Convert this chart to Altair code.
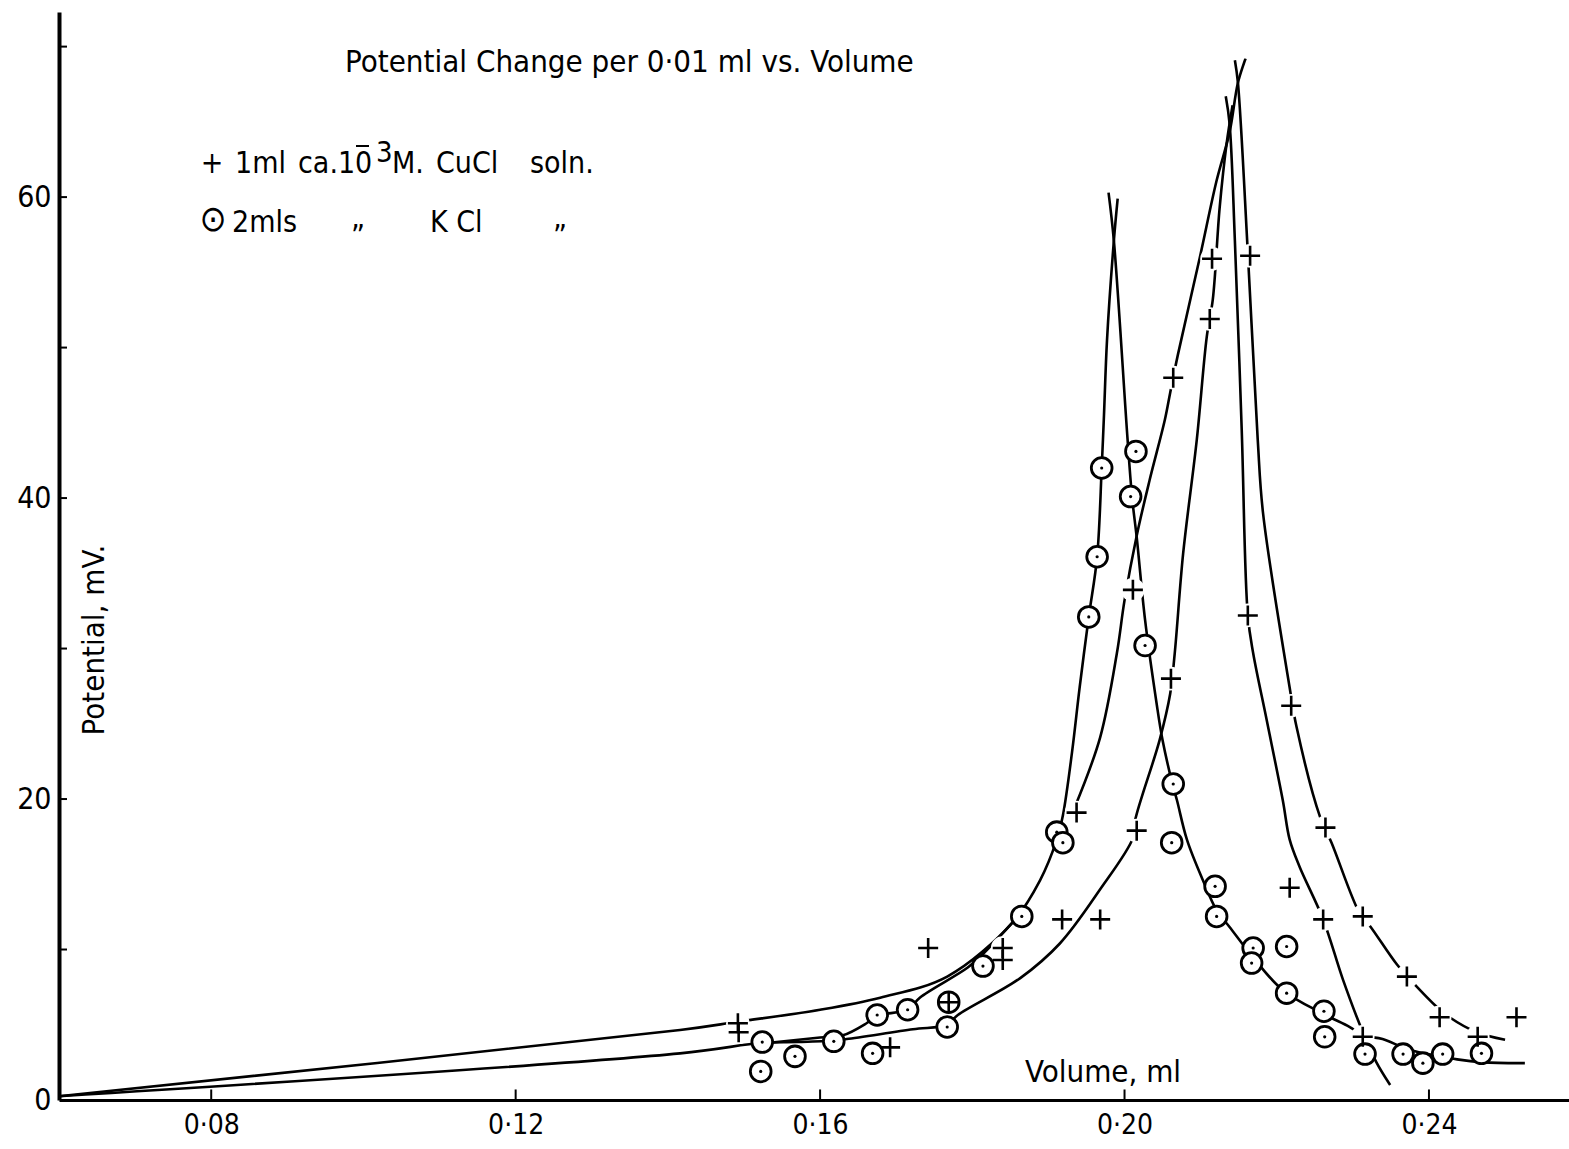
import altair as alt
import pandas as pd

FONT = "Liberation Sans Narrow, DejaVu Sans Condensed, Roboto Condensed, Liberation Sans, DejaVu Sans, sans-serif"

# ---------------- axes ----------------
X_DOMAIN = [0.06, 0.2584]
Y_DOMAIN = [0.0, 72.3]
x_label_values = [0.08, 0.12, 0.16, 0.20, 0.24]
y_label_values = [0, 20, 40, 60]
x_tick_values = [0.08, 0.12, 0.16, 0.20, 0.24]
y_tick_values = [10, 20, 30, 40, 50, 60, 70]

# ---------------- data points ----------------
# + : 1 ml ca. 10^-3 M CuCl soln.
plus_x = [0.1492, 0.1493, 0.1692, 0.1742, 0.1769, 0.1840, 0.1840, 0.1918, 0.1968, 0.1937,
          0.2016, 0.2011, 0.2061, 0.2064, 0.2112, 0.2115, 0.2165, 0.2162, 0.2219, 0.2217,
          0.2264, 0.2261, 0.2313, 0.2313, 0.2371, 0.2414, 0.2464, 0.2515]
plus_y = [5.1, 4.5, 3.5, 10.1, 6.5, 10.1, 9.3, 12.0, 12.0, 19.1,
          17.9, 33.9, 28.0, 48.0, 51.9, 55.9, 56.1, 32.2, 26.2, 14.1,
          18.1, 12.0, 12.2, 4.2, 8.2, 5.5, 4.2, 5.5]

# (.) : 2 mls KCl
circle_x = [0.1524, 0.1522, 0.1567, 0.1618, 0.1669, 0.1675, 0.1715, 0.1767, 0.1769, 0.1814,
            0.1865, 0.1911, 0.1919, 0.1953, 0.1964, 0.1970, 0.2008, 0.2015, 0.2027, 0.2064,
            0.2062, 0.2119, 0.2121, 0.2169, 0.2167, 0.2213, 0.2213, 0.2262, 0.2263, 0.2316,
            0.2366, 0.2392, 0.2418, 0.2469]
circle_y = [3.85, 1.9, 2.9, 3.9, 3.1, 5.65, 6.0, 4.85, 6.5, 8.9,
            12.2, 17.8, 17.1, 32.1, 36.1, 42.0, 40.1, 43.1, 30.2, 21.0,
            17.1, 14.2, 12.2, 10.1, 9.1, 10.2, 7.1, 5.9, 4.2, 3.05,
            3.05, 2.45, 3.05, 3.1]

# ---------------- hand-drawn curves ----------------
kcl_rise_x = [0.0600, 0.1416, 0.1492, 0.1600, 0.1679, 0.1767, 0.1853, 0.1889, 0.1911, 0.1919,
              0.1931, 0.1941, 0.1953, 0.1964, 0.1970, 0.1973, 0.1977, 0.1986, 0.1991]
kcl_rise_y = [0.25, 4.65, 5.2, 6.0, 6.8, 8.2, 11.8, 14.6, 17.3, 18.9,
              23.1, 27.4, 32.1, 36.1, 42.0, 45.5, 50.5, 57.1, 59.9]

kcl_fall_x = [0.1979, 0.1986, 0.2004, 0.2010, 0.2016, 0.2027, 0.2042, 0.2050, 0.2063, 0.2069,
              0.2082, 0.2103, 0.2121, 0.2138, 0.2167, 0.2208, 0.2262, 0.2296, 0.2313, 0.2339,
              0.2366, 0.2392, 0.2418, 0.2437, 0.2471, 0.2526]
kcl_fall_y = [60.3, 57.1, 43.9, 40.0, 37.4, 31.9, 26.4, 23.9, 21.0, 19.9,
              17.3, 14.6, 12.6, 11.5, 9.6, 7.3, 5.7, 4.85, 4.3, 4.05,
              3.5, 3.1, 2.9, 2.7, 2.5, 2.45]

kcl_mid_x = [0.1524, 0.1600, 0.1630, 0.1661, 0.1675, 0.1715, 0.1731, 0.1794, 0.1814, 0.1853]
kcl_mid_y = [3.75, 4.15, 4.3, 5.1, 5.6, 6.0, 6.8, 8.8, 9.7, 11.8]

cucl_low_x = [0.0600, 0.1416, 0.1524, 0.1570, 0.1618, 0.1635, 0.1722, 0.1767, 0.1781, 0.1863,
              0.1915, 0.1968, 0.2011, 0.2014, 0.2046, 0.2060, 0.2066, 0.2077, 0.2095, 0.2108,
              0.2116, 0.2125, 0.2134, 0.2142]
cucl_low_y = [0.25, 3.1, 3.8, 3.85, 3.95, 4.05, 4.7, 5.0, 5.65, 8.1,
              10.4, 14.0, 17.4, 18.6, 23.9, 27.0, 29.7, 36.3, 43.9, 50.7,
              53.2, 59.3, 63.5, 66.1]

cucl_up_x = [0.1935, 0.1968, 0.1990, 0.2000, 0.2016, 0.2033, 0.2053, 0.2060, 0.2070, 0.2099,
             0.2121, 0.2138, 0.2149, 0.2159]
cucl_up_y = [19.5, 24.1, 29.7, 33.2, 37.5, 41.2, 45.2, 47.0, 49.5, 56.0,
             61.1, 64.3, 67.6, 69.2]

cucl_fall_in_x = [0.2133, 0.2138, 0.2145, 0.2154, 0.2162, 0.2169, 0.2187, 0.2208, 0.2217, 0.2230,
                  0.2261, 0.2287, 0.2312, 0.2331, 0.2349]
cucl_fall_in_y = [66.7, 64.9, 57.1, 44.5, 32.2, 29.7, 25.2, 19.9, 17.3, 15.5,
                  12.0, 8.0, 4.65, 2.5, 1.0]

cucl_fall_out_x = [0.2145, 0.2149, 0.2162, 0.2175, 0.2182, 0.2217, 0.2226, 0.2257, 0.2272, 0.2309,
                   0.2322, 0.2358, 0.2379, 0.2410, 0.2427, 0.2463, 0.2500]
cucl_fall_out_y = [69.1, 67.6, 56.3, 43.9, 39.0, 27.4, 24.8, 18.8, 17.1, 12.4,
                   11.6, 9.0, 7.8, 6.2, 5.5, 4.5, 4.0]

curves = {
    "kcl_rise": (kcl_rise_x, kcl_rise_y),
    "kcl_fall": (kcl_fall_x, kcl_fall_y),
    "kcl_mid": (kcl_mid_x, kcl_mid_y),
    "cucl_low": (cucl_low_x, cucl_low_y),
    "cucl_up": (cucl_up_x, cucl_up_y),
    "cucl_fall_in": (cucl_fall_in_x, cucl_fall_in_y),
    "cucl_fall_out": (cucl_fall_out_x, cucl_fall_out_y),
}

rows = []
for name, (xs, ys) in curves.items():
    for i, (a, b) in enumerate(zip(xs, ys)):
        rows.append({"x": a, "y": b, "curve": name, "order": i})
df_lines = pd.DataFrame(rows)
df_plus = pd.DataFrame({"x": plus_x, "y": plus_y})
df_circ = pd.DataFrame({"x": circle_x, "y": circle_y})
df_xt = pd.DataFrame({"x": x_tick_values, "y": [0.0] * len(x_tick_values), "y2": [0.7] * len(x_tick_values)})
df_yt = pd.DataFrame({"y": y_tick_values, "x": [X_DOMAIN[0]] * len(y_tick_values),
                      "x2": [X_DOMAIN[0] + 0.00105] * len(y_tick_values)})


def xenc():
    return alt.X("x:Q", scale=alt.Scale(domain=X_DOMAIN, nice=False, zero=False),
                 axis=alt.Axis(values=x_label_values,
                               labelExpr="replace(format(datum.value, '.2f'), '.', '·')",
                               title=None, grid=False, ticks=False, tickSize=0,
                               domainWidth=3, domainColor="black",
                               labelFontSize=28, labelFont=FONT, labelColor="black",
                               labelPadding=11, labelFlush=False, labelOverlap=False))


def yenc():
    return alt.Y("y:Q", scale=alt.Scale(domain=Y_DOMAIN, nice=False, zero=False),
                 axis=alt.Axis(values=y_label_values, title=None, grid=False, ticks=False,
                               tickSize=0, domainWidth=4, domainColor="black",
                               labelFontSize=30, labelFont=FONT, labelColor="black",
                               labelPadding=8, labelFlush=False, labelOverlap=False))


lines = alt.Chart(df_lines).mark_line(color="black", strokeWidth=2.6, interpolate="catmull-rom").encode(
    x=xenc(), y=yenc(), detail="curve:N", order="order:Q")

halo = alt.Chart(df_plus).mark_point(shape="circle", filled=True, color="white", size=560, opacity=1).encode(
    x=xenc(), y=yenc())

circles = alt.Chart(df_circ).mark_point(shape="circle", filled=True, fill="white", stroke="black",
                                        strokeWidth=2.8, size=430, opacity=1, fillOpacity=1).encode(
    x=xenc(), y=yenc())

crosses = alt.Chart(df_plus).mark_point(shape="M-1,0L1,0M0,-1L0,1", filled=False, color="black",
                                        strokeWidth=2.6, size=400, opacity=1).encode(
    x=xenc(), y=yenc())

dots = alt.Chart(df_circ).mark_point(shape="circle", filled=True, color="black", size=10, opacity=1).encode(
    x=xenc(), y=yenc())

xticks = alt.Chart(df_xt).mark_rule(color="black", strokeWidth=2).encode(x=xenc(), y=yenc(), y2="y2:Q")
yticks = alt.Chart(df_yt).mark_rule(color="black", strokeWidth=2).encode(x=xenc(), x2="x2:Q", y=yenc())

# overbar of the "10" exponent in the legend (negative power written as a bar)
overbar = alt.Chart(pd.DataFrame({"t": [0]})).mark_rule(color="black", strokeWidth=2).encode(
    x=alt.value(297), x2=alt.value(310), y=alt.value(134))


def label(t, px, py, size=30, align="left", baseline="alphabetic", angle=0):
    return alt.Chart(pd.DataFrame({"t": [t]})).mark_text(
        text=t, font=FONT, fontSize=size, color="black", align=align, baseline=baseline, angle=angle
    ).encode(x=alt.value(px), y=alt.value(py))


texts = [
    label("Potential Change per 0·01 ml  vs. Volume", 286, 60, 31),
    label("+", 153, 161, 30, align="center"),
    label("1ml", 176, 161),
    label("ca.10", 239, 161),
    label("3", 317, 150, 29),
    label("M.", 333, 161),
    label("CuCl", 377, 161),
    label("soln.", 471, 161),
    label("⊙", 154, 208, 36, align="center", baseline="middle"),
    label("2mls", 173, 220),
    label("”", 299, 234, 30, align="center"),
    label("K Cl", 371, 220),
    label("”", 501, 234, 30, align="center"),
    label("Potential, mV.", 36, 628, 31, align="center", baseline="middle", angle=270),
    label("Volume, ml", 966, 1070, 31),
]

chart = alt.layer(lines, xticks, yticks, halo, circles, crosses, dots, overbar, *texts).properties(
    width=1510, height=1088,
    padding={"left": 59, "top": 12, "right": 0, "bottom": 49},
    autosize=alt.AutoSizeParams(type="none"),
    background="white",
).configure_view(stroke=None)

chart.save("out.html", embed_options={"renderer": "svg", "actions": False})
